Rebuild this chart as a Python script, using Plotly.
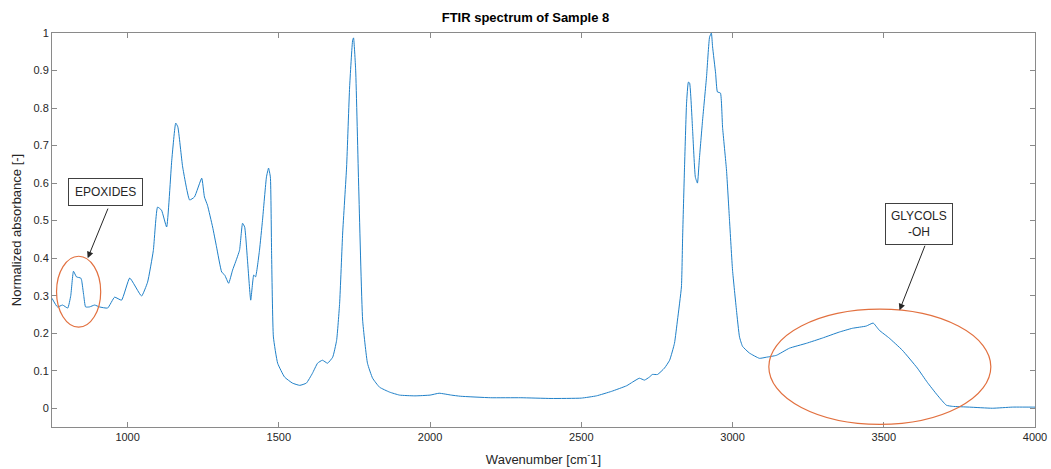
import plotly.graph_objects as go

# FTIR spectrum, Sample 8
wavenumber = [
    750, 768, 785, 802, 812, 821, 831, 845, 848, 855, 861, 874, 891, 907, 934,
    957, 980, 1007, 1046, 1066, 1085, 1099, 1112, 1129, 1146, 1159, 1166, 1182,
    1205, 1221, 1245, 1254, 1264, 1281, 1294, 1311, 1321, 1334, 1347, 1357,
    1370, 1380, 1387, 1397, 1407, 1417, 1423, 1436, 1446, 1459, 1466, 1472,
    1476, 1482, 1496, 1519, 1545, 1569, 1591, 1611, 1628, 1644, 1661, 1678,
    1691, 1701, 1711, 1724, 1734, 1744, 1747, 1754, 1764, 1777, 1793, 1810,
    1833, 1866, 1899, 1950, 2000, 2030, 2070, 2100, 2200, 2300, 2400, 2500,
    2550, 2600, 2650, 2670, 2692, 2709, 2725, 2735, 2752, 2775, 2792, 2808,
    2818, 2831, 2835, 2841, 2848, 2854, 2858, 2868, 2877, 2884, 2890, 2901,
    2914, 2924, 2930, 2934, 2944, 2950, 2960, 2967, 2980, 2990, 3000, 3013,
    3023, 3033, 3056, 3089, 3112, 3145, 3188, 3244, 3297, 3353, 3396, 3442,
    3465, 3485, 3518, 3561, 3611, 3644, 3677, 3707, 3727, 3783, 3859, 3925,
    3991, 4000,
]
absorbance = [
    0.293, 0.270, 0.275, 0.267, 0.300, 0.365, 0.350, 0.347, 0.341, 0.300,
    0.270, 0.270, 0.275, 0.270, 0.267, 0.296, 0.288, 0.347, 0.299, 0.336,
    0.420, 0.536, 0.528, 0.483, 0.661, 0.760, 0.750, 0.643, 0.555, 0.563,
    0.613, 0.563, 0.541, 0.483, 0.430, 0.363, 0.355, 0.333, 0.368, 0.390,
    0.421, 0.493, 0.483, 0.387, 0.288, 0.355, 0.350, 0.421, 0.501, 0.616,
    0.640, 0.616, 0.413, 0.190, 0.120, 0.083, 0.067, 0.061, 0.067, 0.093,
    0.120, 0.128, 0.120, 0.136, 0.181, 0.280, 0.467, 0.643, 0.856, 0.981,
    0.987, 0.901, 0.590, 0.235, 0.120, 0.080, 0.056, 0.043, 0.035, 0.033,
    0.035, 0.040, 0.035, 0.032, 0.028, 0.028, 0.026, 0.027, 0.033, 0.045,
    0.060, 0.070, 0.080, 0.075, 0.083, 0.090, 0.090, 0.107, 0.128, 0.173,
    0.235, 0.323, 0.456, 0.635, 0.813, 0.869, 0.867, 0.741, 0.616, 0.600,
    0.661, 0.768, 0.883, 0.989, 1.000, 0.963, 0.893, 0.843, 0.840, 0.749,
    0.635, 0.501, 0.368, 0.261, 0.190, 0.165, 0.147, 0.133, 0.136, 0.141,
    0.160, 0.173, 0.187, 0.203, 0.213, 0.219, 0.227, 0.208, 0.187, 0.155,
    0.107, 0.069, 0.035, 0.008, 0.005, 0.003, 0.000, 0.003, 0.003, 0.003,
]

x_ticks = [1000, 1500, 2000, 2500, 3000, 3500, 4000]
y_ticks = [0, 0.1, 0.2, 0.3, 0.4, 0.5, 0.6, 0.7, 0.8, 0.9, 1]
y_labels = ["0", "0.1", "0.2", "0.3", "0.4", "0.5", "0.6", "0.7", "0.8", "0.9", "1"]

BLUE = "#1f80c8"
ORANGE = "#E2703F"
AXIS = "#8a8a8a"
FONT = "Liberation Sans, Arial, sans-serif"

fig = go.Figure()
fig.add_trace(go.Scatter(
    x=wavenumber, y=absorbance, mode="lines",
    line=dict(color=BLUE, width=1, shape="spline", smoothing=0.4),
    showlegend=False, hoverinfo="x+y",
))

# circled regions
fig.add_shape(type="circle", xref="x", yref="y", x0=765, x1=911, y0=0.216, y1=0.405,
              line=dict(color=ORANGE, width=1.2))
fig.add_shape(type="circle", xref="x", yref="y", x0=3120, x1=3854, y0=-0.043, y1=0.264,
              line=dict(color=ORANGE, width=1.2))

# text boxes
box = dict(showarrow=False, bordercolor="#404040", borderwidth=1, bgcolor="white",
           font=dict(family=FONT, size=12, color="#262626"), xref="x", yref="y")
fig.add_annotation(x=927, y=0.575, text="EPOXIDES", borderpad=6, **box)
fig.add_annotation(x=3616, y=0.491, text="GLYCOLS<br>-OH", borderpad=5, align="center", **box)

# arrows
arrow = dict(text="", showarrow=True, arrowhead=2, arrowsize=1.3, arrowwidth=1,
             arrowcolor="#262626", xref="x", yref="y", axref="x", ayref="y")
fig.add_annotation(x=868, y=0.40, ax=937, ay=0.536, **arrow)
fig.add_annotation(x=3552, y=0.261, ax=3638, ay=0.437, **arrow)

axis_common = dict(
    showline=True, linecolor=AXIS, linewidth=1, mirror="ticks",
    ticks="inside", ticklen=5, tickcolor=AXIS, showgrid=False, zeroline=False,
    automargin=False,
    tickfont=dict(family=FONT, size=11, color="#262626"),
)

fig.update_layout(
    width=1051, height=469,
    margin=dict(l=52, r=16, t=33, b=42),
    paper_bgcolor="white", plot_bgcolor="white",
    title=dict(text="<b>FTIR spectrum of Sample 8</b>", x=0.5, xanchor="center",
               y=0.962, yanchor="middle",
               font=dict(family=FONT, size=13, color="#000000")),
    xaxis=dict(range=[750, 4000], tickvals=x_ticks,
               title=dict(text="Wavenumber [cm<sup>-</sup>1]", standoff=12,
                          font=dict(family=FONT, size=13, color="#262626")),
               **axis_common),
    yaxis=dict(range=[-0.05, 1], tickvals=y_ticks, ticktext=y_labels,
               title=dict(text="Normalized absorbance [-]", standoff=8,
                          font=dict(family=FONT, size=13, color="#262626")),
               **axis_common),
)

fig.write_html("out.html", config={"displayModeBar": False},
               post_script="document.body.style.margin='0';")
